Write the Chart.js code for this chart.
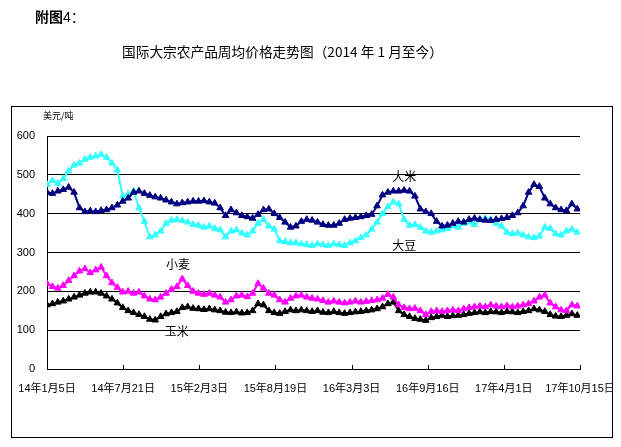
<!DOCTYPE html>
<html>
<head>
<meta charset="utf-8">
<script src="https://cdn.jsdelivr.net/npm/chart.js@4"></script>
<style>
  body { margin: 0; background: #fff; }
  #wrap { position: relative; width: 621px; height: 447px; font-family: "Liberation Sans", "Noto Sans CJK SC", sans-serif; color: #000; }
  #box { position: absolute; left: 11px; top: 106px; width: 600px; height: 330px; border: 1px solid #000; }
  #chart { position: absolute; left: 0; top: 0; }
  .txt { position: absolute; white-space: nowrap; }
  #fig { left: 35px; top: 6px; font-size: 14px; }
  #fig b { font-weight: bold; }
  #title { left: 122px; top: 41px; font-size: 13.7px; font-family: "Noto Sans CJK SC", sans-serif; }
  #unit { left: 43px; top: 109px; font-size: 9px; font-family: "Noto Sans CJK SC", sans-serif; }
</style>
</head>
<body>
<div id="wrap">
  <div id="box"></div>
  <canvas id="chart" width="621" height="447"></canvas>
  <div class="txt" id="fig"><b>附图</b>4：</div>
  <div class="txt" id="title">国际大宗农产品周均价格走势图（2014 年 1 月至今）</div>
  <div class="txt" id="unit">美元/吨</div>
</div>
<script>
// x tick labels, one every 197 days from 2014-01-05
const tickLabels = ['14年1月5日', '14年7月21日', '15年2月3日', '15年8月19日', '16年3月3日', '16年9月16日', '17年4月1日', '17年10月15日'];
const tickStep = 197;
const pointStep = 14; // days between plotted points

// prices, USD/ton
const rice = [455,452,458,462,468,455,415,405,407,405,
  408,410,415,422,432,440,455,458,452,447,
  443,440,435,430,425,428,430,432,432,433,
  430,427,415,395,410,402,395,392,388,398,
  410,412,400,390,378,365,368,380,385,383,
  378,372,370,370,375,385,388,390,392,395,
  398,420,448,455,458,458,460,458,445,412,
  405,400,380,368,370,375,380,378,385,388,
  385,383,382,385,387,390,395,402,420,455,
  475,470,440,425,415,410,408,425,412];
const soybean = [475,485,478,490,510,525,530,540,545,548,
  552,545,530,512,445,450,458,415,380,340,
  345,355,375,383,385,382,378,372,370,365,
  368,362,358,340,355,358,350,345,355,375,
  385,368,360,330,328,325,325,322,320,318,
  322,320,318,322,320,318,325,330,338,345,
  360,378,400,418,430,425,385,370,372,365,
  355,352,355,358,362,368,365,375,378,372,
  385,388,385,375,368,352,348,350,345,340,
  338,342,365,362,348,345,355,360,352];
const wheat = [220,212,208,215,228,240,252,258,248,255,
  262,240,222,210,198,200,195,198,188,180,
  178,185,195,205,212,232,215,200,195,192,
  195,190,185,172,178,188,190,186,195,220,
  208,195,190,178,172,182,188,190,185,182,
  180,176,172,175,172,170,172,175,172,174,
  176,178,182,192,185,165,158,155,156,150,
  140,148,150,148,150,152,150,155,158,160,
  162,160,165,162,160,163,160,162,165,168,
  175,185,190,170,160,152,150,165,162];
const corn = [165,168,172,175,180,185,190,195,198,198,
  195,188,180,170,158,150,145,140,135,128,
  126,135,142,145,148,158,160,156,155,153,
  155,152,150,146,145,147,144,145,150,168,
  165,150,145,143,148,152,150,152,150,148,
  150,146,145,148,145,143,145,147,148,150,
  152,155,160,168,172,150,140,135,130,128,
  125,132,135,138,135,137,138,140,143,145,
  147,145,148,147,145,148,147,145,148,150,
  155,152,148,140,136,135,138,142,138];

// series names written on the plot, placed in data units (day, price)
const seriesNotes = [
  { text: '大米', day: 924, price: 495 },
  { text: '大豆', day: 924, price: 317 },
  { text: '小麦', day: 339, price: 268 },
  { text: '玉米', day: 336, price: 98 }
];

const toPoints = arr => arr.map((v, i) => ({ x: i * pointStep, y: v }));
const fontLatin = '"Liberation Sans", "Noto Sans CJK SC", sans-serif';

function series(label, data, color) {
  return {
    label: label,
    data: toPoints(data),
    borderColor: color,
    backgroundColor: color,
    borderWidth: 2,
    pointStyle: 'triangle',
    pointRadius: 3.8,
    pointBorderWidth: 1,
    pointBorderColor: color,
    pointBackgroundColor: color,
    tension: 0
  };
}

// inside tick marks on the x axis + series names
const extras = {
  id: 'extras',
  afterDraw(chart) {
    const ctx = chart.ctx;
    const xs = chart.scales.x, ys = chart.scales.y;
    const y0 = ys.getPixelForValue(0);
    ctx.save();
    ctx.strokeStyle = '#000';
    ctx.lineWidth = 1;
    tickLabels.forEach((_, i) => {
      const px = Math.round(xs.getPixelForValue(i * tickStep)) + 0.5;
      ctx.beginPath();
      ctx.moveTo(px, y0);
      ctx.lineTo(px, y0 - 4);
      ctx.stroke();
    });
    ctx.fillStyle = '#000';
    ctx.font = '12px "Noto Sans CJK SC", sans-serif';
    ctx.textAlign = 'center';
    ctx.textBaseline = 'middle';
    seriesNotes.forEach(n => {
      ctx.fillText(n.text, xs.getPixelForValue(n.day), ys.getPixelForValue(n.price));
    });
    ctx.restore();
  }
};

const ctx = document.getElementById('chart').getContext('2d');
new Chart(ctx, {
  type: 'line',
  data: {
    datasets: [
      series('大米', rice, '#000080'),
      series('大豆', soybean, '#33FFFF'),
      series('小麦', wheat, '#FF00FF'),
      series('玉米', corn, '#000000')
    ]
  },
  options: {
    responsive: false,
    animation: false,
    layout: { padding: { top: 136, right: 41, left: 0, bottom: 0 } },
    scales: {
      x: {
        type: 'linear',
        min: 0,
        max: tickStep * (tickLabels.length - 1),
        afterFit: s => { s.height = 78; s.paddingLeft = 0; s.paddingRight = 0; },
        afterBuildTicks: s => { s.ticks = tickLabels.map((_, i) => ({ value: i * tickStep })); },
        grid: { display: false, drawTicks: false },
        border: { display: true, color: '#000', width: 1 },
        ticks: {
          autoSkip: false,
          maxRotation: 0,
          padding: 13,
          color: '#000',
          font: { family: fontLatin, size: 11 },
          callback: v => tickLabels[Math.round(v / tickStep)]
        }
      },
      y: {
        min: 0,
        max: 600,
        afterFit: s => { s.width = 47; },
        grid: { color: '#000', lineWidth: 1, drawTicks: false },
        border: { display: true, color: '#000', width: 1 },
        ticks: {
          stepSize: 100,
          padding: 12,
          color: '#000',
          font: { family: fontLatin, size: 11 }
        }
      }
    },
    plugins: {
      legend: { display: false },
      tooltip: { enabled: false }
    }
  },
  plugins: [extras]
});
</script>
</body>
</html>
